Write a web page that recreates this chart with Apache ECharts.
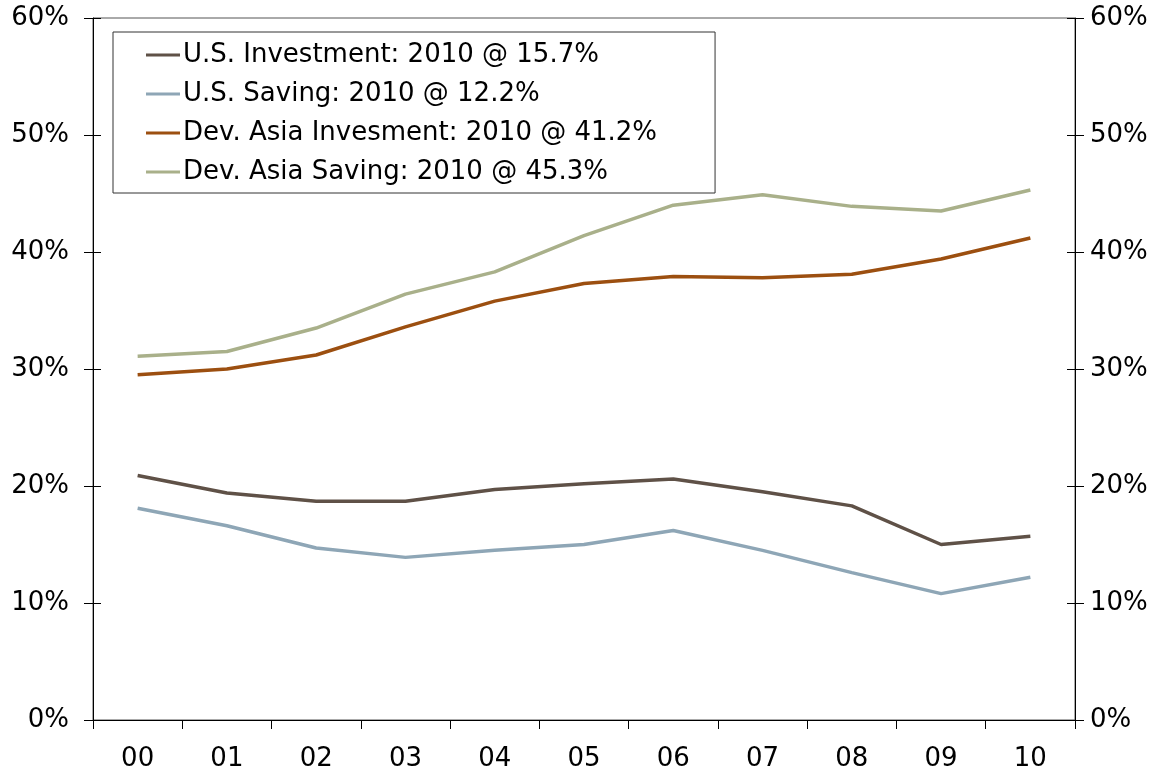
<!DOCTYPE html>
<html>
<head>
<meta charset="utf-8">
<script src="https://cdn.jsdelivr.net/npm/echarts@6/dist/echarts.min.js"></script>
<style>
html, body { margin: 0; padding: 0; background: #fff; }
#container { width: 1167px; height: 772px; }
</style>
</head>
<body>
<div id="container"></div>
<script>
// years on the x axis
var years = ['00', '01', '02', '03', '04', '05', '06', '07', '08', '09', '10'];

// series values, % of GDP
var usInvestment = [20.9, 19.4, 18.7, 18.7, 19.7, 20.2, 20.6, 19.5, 18.3, 15.0, 15.7];
var usSaving = [18.1, 16.6, 14.7, 13.9, 14.5, 15.0, 16.2, 14.5, 12.6, 10.8, 12.2];
var asiaInvestment = [29.5, 30.0, 31.2, 33.6, 35.8, 37.3, 37.9, 37.8, 38.1, 39.4, 41.2];
var asiaSaving = [31.1, 31.5, 33.5, 36.4, 38.3, 41.4, 44.0, 44.9, 43.9, 43.5, 45.3];

var names = [
    'U.S. Investment: 2010 @ 15.7%',
    'U.S. Saving: 2010 @ 12.2%',
    'Dev. Asia Invesment: 2010 @ 41.2%',
    'Dev. Asia Saving: 2010 @ 45.3%'
];
var colors = ['#5f5147', '#8ea6b6', '#9c4f10', '#a9b08a'];

var dom = document.getElementById('container');
var myChart = echarts.init(dom);

var axisFont = {
    fontFamily: 'DejaVu Sans, Verdana, sans-serif',
    fontSize: 26,
    color: '#000'
};

// main y axis (labels + outside half of the tick)
function yAxisCfg(pos, margin) {
    return {
        type: 'value',
        position: pos,
        min: 0,
        max: 60,
        interval: 10,
        axisLine: { show: true, lineStyle: { color: '#000', width: 1 } },
        axisTick: { show: true, inside: false, length: 9, lineStyle: { color: '#000' } },
        splitLine: { show: false },
        axisLabel: Object.assign({ formatter: '{value}%', margin: margin }, axisFont)
    };
}
// helper axis, only draws the inside half of the tick so ticks cross the line
function yTickCfg(pos) {
    return {
        type: 'value',
        position: pos,
        min: 0,
        max: 60,
        interval: 10,
        axisLine: { show: false },
        axisTick: { show: true, inside: true, length: 8, lineStyle: { color: '#000' } },
        splitLine: { show: false },
        axisLabel: { show: false }
    };
}

function makeLine(i, data) {
    return {
        name: names[i],
        type: 'line',
        data: data,
        symbol: 'none',
        smooth: false,
        lineStyle: { color: colors[i], width: 3.5 },
        itemStyle: { color: colors[i] },
        z: 5 + i
    };
}

var option = {
    animation: false,
    backgroundColor: '#fff',
    grid: {
        left: 93,
        right: 92,
        top: 18,
        bottom: 51,
        show: true,
        borderColor: '#555',
        borderWidth: 1
    },
    legend: {
        orient: 'vertical',
        left: 113,
        top: 32,
        data: names,
        icon: 'rect',
        itemWidth: 34,
        itemHeight: 3,
        itemGap: 11,
        padding: [9, 58, 7, 33],
        borderColor: '#333',
        borderWidth: 1,
        backgroundColor: '#fff',
        textStyle: {
            fontFamily: 'DejaVu Sans, Verdana, sans-serif',
            fontSize: 26,
            lineHeight: 28,
            color: '#000',
            padding: [0, 0, 0, -2]
        }
    },
    xAxis: {
        type: 'category',
        data: years,
        boundaryGap: true,
        axisLine: { show: true, lineStyle: { color: '#000', width: 1 } },
        axisTick: { show: true, length: 9, lineStyle: { color: '#000' } },
        axisLabel: Object.assign({ margin: 26 }, axisFont)
    },
    yAxis: [yAxisCfg('left', 24), yAxisCfg('right', 15), yTickCfg('left'), yTickCfg('right')],
    series: [
        makeLine(0, usInvestment),
        makeLine(1, usSaving),
        makeLine(2, asiaInvestment),
        makeLine(3, asiaSaving)
    ]
};

myChart.setOption(option);
</script>
</body>
</html>
